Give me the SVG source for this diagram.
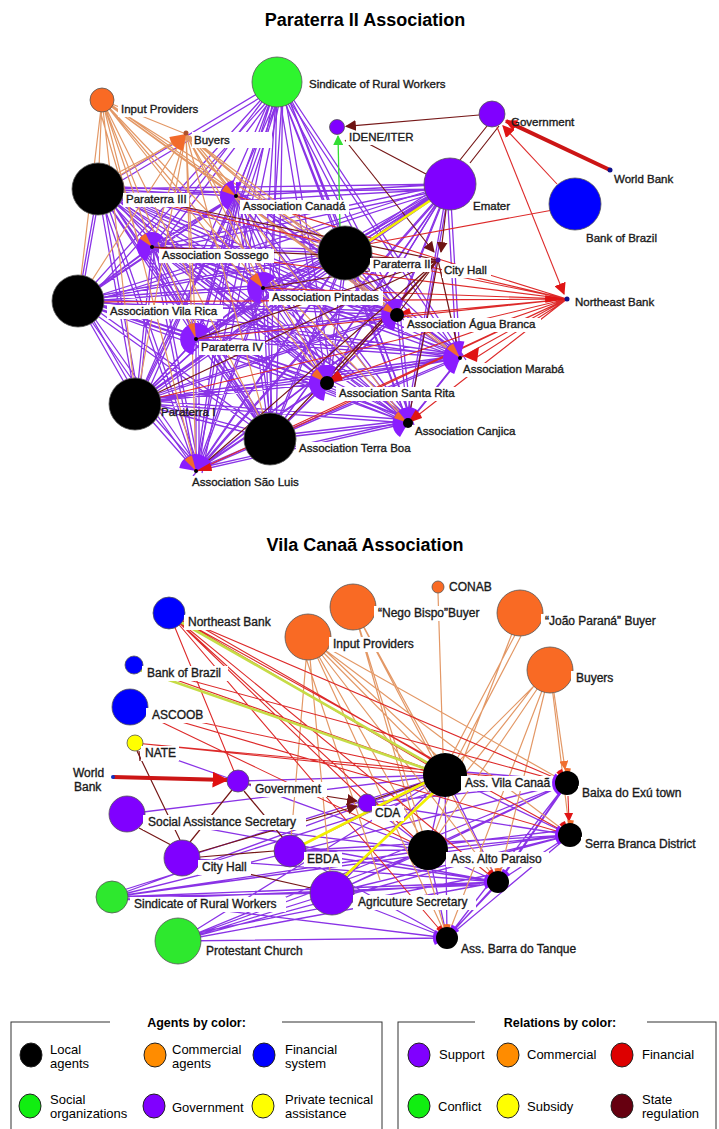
<svg xmlns="http://www.w3.org/2000/svg" xmlns:xlink="http://www.w3.org/1999/xlink" width="719" height="1129" viewBox="0 0 719 1129">
<style>
.pu{stroke:#8a33e6;stroke-width:1.3;fill:none}
.or{stroke:#e39866;stroke-width:1.2;fill:none}
.rd{stroke:#dd2a2a;stroke-width:1.1;fill:none}
.dr{stroke:#761818;stroke-width:1.2;fill:none}
.ye{stroke:#f2ef00;stroke-width:2.6;fill:none}
.yg{stroke:#c6dc46;stroke-width:2.6;fill:none}
.fp{fill:#8a1cff}
.fo{fill:#f26a2a}
.fr{fill:#e01414}
.nd{stroke:#555;stroke-width:.8}
.bg{fill:#fff}
.t{font-family:"Liberation Sans",Arial,sans-serif;font-size:11.5px;fill:#1a1a1a;stroke:#1a1a1a;stroke-width:.35}
.tb{font-family:"Liberation Sans",Arial,sans-serif;font-size:12px;fill:#1a1a1a;stroke:#1a1a1a;stroke-width:.35}
.h{font-family:"Liberation Sans",Arial,sans-serif;font-size:18px;font-weight:bold;fill:#000}
.lt{font-family:"Liberation Sans",Arial,sans-serif;font-size:12.5px;font-weight:bold;fill:#000}
.lg{font-family:"Liberation Sans",Arial,sans-serif;font-size:13px;fill:#000}
.le{stroke:#222;stroke-width:1}
</style>
<defs>
<marker id="aDR" viewBox="0 0 10 10" refX="9" refY="5" markerWidth="11" markerHeight="11" markerUnits="userSpaceOnUse" orient="auto"><path d="M0 0L10 5L0 10z" fill="#6e1414"/></marker>
<marker id="aRD" viewBox="0 0 10 10" refX="9" refY="5" markerWidth="12" markerHeight="12" markerUnits="userSpaceOnUse" orient="auto"><path d="M0 0L10 5L0 10z" fill="#e01414"/></marker>
<marker id="aBIG" viewBox="0 0 10 10" refX="9" refY="5" markerWidth="16" markerHeight="16" markerUnits="userSpaceOnUse" orient="auto"><path d="M0 0L10 5L0 10z" fill="#e01010"/></marker>
<marker id="aGR" viewBox="0 0 10 10" refX="9" refY="5" markerWidth="10" markerHeight="10" markerUnits="userSpaceOnUse" orient="auto"><path d="M0 0L10 5L0 10z" fill="#33dd33"/></marker>
<marker id="aOR" viewBox="0 0 10 10" refX="9" refY="5" markerWidth="9" markerHeight="9" markerUnits="userSpaceOnUse" orient="auto"><path d="M0 0L10 5L0 10z" fill="#f07030"/></marker>
<marker id="aRS" viewBox="0 0 10 10" refX="9" refY="5" markerWidth="9" markerHeight="9" markerUnits="userSpaceOnUse" orient="auto"><path d="M0 0L10 5L0 10z" fill="#e01414"/></marker>
</defs>
<rect width="719" height="1129" fill="#fff"/>

<text class="h" x="365" y="26" text-anchor="middle">Paraterra II Association</text>
<text class="h" x="365" y="551" text-anchor="middle">Vila Canaã Association</text>

<g id="connectors">
<!-- top network -->
<path id="mesh" class="pu" d="M98 189L236 196M98 189L152 247M98 189L345 253M98 189L78 302M98 189L263 288M98 189L397 315M98 189L196 339M98 189L460 358M98 189L327 383M98 189L136 403M98 189L270 439M98 189L408 423M98 189L196 471M236 196L152 247M236 196L345 253M236 196L78 302M236 196L263 288M236 196L397 315M236 196L196 339M236 196L460 358M236 196L327 383M236 196L136 403M236 196L270 439M236 196L408 423M236 196L196 471M152 247L345 253M152 247L78 302M152 247L263 288M152 247L397 315M152 247L196 339M152 247L460 358M152 247L327 383M152 247L136 403M152 247L270 439M152 247L408 423M152 247L196 471M345 253L78 302M345 253L263 288M345 253L397 315M345 253L196 339M345 253L460 358M345 253L327 383M345 253L136 403M345 253L270 439M345 253L408 423M345 253L196 471M78 302L263 288M78 302L397 315M78 302L196 339M78 302L460 358M78 302L327 383M78 302L136 403M78 302L270 439M78 302L408 423M78 302L196 471M263 288L397 315M263 288L196 339M263 288L460 358M263 288L327 383M263 288L136 403M263 288L270 439M263 288L408 423M263 288L196 471M397 315L196 339M397 315L460 358M397 315L327 383M397 315L136 403M397 315L270 439M397 315L408 423M397 315L196 471M196 339L460 358M196 339L327 383M196 339L136 403M196 339L270 439M196 339L408 423M196 339L196 471M460 358L327 383M460 358L136 403M460 358L270 439M460 358L408 423M460 358L196 471M327 383L136 403M327 383L270 439M327 383L408 423M327 383L196 471M136 403L270 439M136 403L408 423M136 403L196 471M270 439L408 423M270 439L196 471M408 423L196 471"/>
<use xlink:href="#mesh" href="#mesh" transform="translate(3,-3)"/>
<path id="sind" class="pu" d="M277 82L98 189M277 82L236 196M277 82L152 247M277 82L345 253M277 82L78 302M277 82L263 288M277 82L397 315M277 82L196 339M277 82L460 358M277 82L327 383M277 82L136 403M277 82L270 439M277 82L408 423M277 82L196 471"/>
<use xlink:href="#sind" href="#sind" transform="translate(6,2)"/>
<path id="emat" class="pu" d="M450 184L98 189M450 184L236 196M450 184L152 247M450 184L345 253M450 184L78 302M450 184L263 288M450 184L397 315M450 184L196 339M450 184L460 358M450 184L327 383M450 184L136 403M450 184L270 439M450 184L408 423M450 184L196 471"/>
<use xlink:href="#emat" href="#emat" transform="translate(-3,5)"/>
<path class="or" d="M102 100L98 189M102 100L236 196M102 100L152 247M102 100L345 253M102 100L78 302M102 100L263 288M102 100L397 315M102 100L196 339M102 100L460 358M102 100L327 383M102 100L136 403M102 100L270 439M102 100L408 423M102 100L196 471M102 100L186 134M106 101L240 196M98 104L140 247"/>
<path class="or" d="M186 134L98 189M186 134L236 196M186 134L152 247M186 134L345 253M186 134L78 302M186 134L263 288M186 134L397 315M186 134L196 339M186 134L460 358M186 134L327 383M186 134L136 403M186 134L270 439M186 134L408 423M186 134L196 471M190 136L240 196"/>
<path class="or" stroke-width="2.6" d="M112 176L176 142"/>
<path class="rd" d="M567 299L98 189M567 299L236 196M567 299L152 247M567 299L345 253M567 299L78 302M567 299L263 288M567 299L397 315M567 299L196 339M567 299L460 358M567 299L327 383M567 299L136 403M567 299L270 439M567 299L408 423M567 299L196 471M553 210L368 244M560 304L477 357"/>
<path class="dr" d="M438 260L98 189M438 260L152 247M438 260L263 288M438 260L397 315M438 260L196 339M438 260L327 383M438 260L136 403M438 260L270 439M438 260L408 423M438 260L196 471M438 260L460 358M487 126L460 160M499 126L470 163M350 134L426 174"/>
<path class="dr" marker-end="url(#aDR)" d="M479 115L346 126.3"/>
<path class="dr" marker-end="url(#aDR)" d="M345 140L434 252"/>
<path class="dr" marker-end="url(#aDR)" d="M446 210L441 252"/>
<path class="rd" marker-end="url(#aRD)" d="M497 127L564 294"/>
<path class="rd" marker-end="url(#aRD)" d="M557 184L503 126"/>
<path stroke="#cc1515" stroke-width="4" fill="none" marker-end="url(#aRD)" d="M610 170L506 121"/>
<path stroke="#33dd33" stroke-width="1.3" fill="none" marker-end="url(#aGR)" d="M340 228L338 136"/>
<path class="pu" stroke-width="2.5" d="M427 194L364 236"/>
<path class="ye" d="M431 200L369 241"/>

<!-- bottom network -->
<path class="pu" d="M112 897L445 775M112 897L428 850M112 897L567 783M112 897L570 835M112 897L498 882M112 897L447 938M112 897L332 893M114 893L440 790M114 900L480 885M178 941L445 775M178 941L428 850M178 941L570 835M178 941L498 882M178 941L447 938M178 941L332 893M178 941L567 783M180 936L490 875M182 858L445 775M182 858L498 882M127 814L445 775M127 814L428 850M127 814L498 882M238 781L445 775M238 781L428 850M290 851L445 775M290 851L428 850M290 851L570 835M290 851L498 882M290 851L447 938M332 893L445 775M332 893L428 850M332 893L567 783M332 893L570 835M332 893L498 882M332 893L447 938M367 803L445 775M367 803L428 850M367 803L567 783M367 803L570 835M445 775L567 783M445 775L570 835M445 775L428 850M445 775L498 882M445 775L447 938M428 850L567 783M428 850L570 835M428 850L498 882M428 850L447 938M498 882L567 783M498 882L570 835M498 882L447 938M447 938L570 835M447 938L567 783M449 780L563 788M430 846L566 830M440 770L562 780M502 878L563 790M450 934L494 888"/>
<path class="pu" d="M140 747L228 778"/>
<path class="or" d="M308 637L445 775M308 637L428 850M308 637L498 882M308 637L447 938M308 637L567 783M308 637L570 835M308 637L332 893M308 637L290 851M314 640L452 770M300 640L380 880M353 607L445 775M353 607L428 850M353 607L447 938M353 607L498 882M438 593L443 753M515 635L452 755M521 636L458 757M520 613L428 850M550 670L445 775M550 670L570 835M550 670L428 850M550 670L498 882M550 670L447 938M545 672L460 780"/>
<path class="or" stroke="#ef7a3a" stroke-width="1.6" marker-end="url(#aOR)" d="M554 693L565 769"/>
<path class="rd" d="M169 613L445 775M175 612L446 768M169 613L567 783M169 613L570 835M169 613L428 850M169 613L498 882M169 613L447 938M169 613L238 781M169 613L367 803M134 665L445 775M134 665L567 783M130 707L445 775M130 707L428 850M130 707L570 835M135 743L445 775M135 743L567 783"/>
<path class="rd" stroke-width="1.5" marker-end="url(#aRS)" d="M568 796L569 821"/>
<path class="yg" d="M172 617L440 770M137 669L438 773"/>
<path class="dr" d="M137 751L180 840M232 790L190 842M244 791L283 838M139 828L171 845M200 857L274 851M205 864L311 888"/>
<path class="dr" stroke-width="3" d="M139 751L140 761"/>
<path class="dr" marker-end="url(#aDR)" d="M249 784L357 801"/>
<path class="dr" stroke-width="3" marker-end="url(#aDR)" d="M199 852L357 806"/>
<path class="dr" stroke-width="2.5" d="M375 799L425 782"/>
<path class="ye" d="M304 844L428 781M345 876L436 790"/>
<path stroke="#cc1515" stroke-width="4" fill="none" marker-end="url(#aBIG)" d="M113 777L227 780"/>
</g>

<!-- top nodes -->
<g id="n-sindicate"><circle class="nd" cx="277" cy="82" r="25" fill="#2ef52e"/><rect class="bg" x="306" y="78" width="144" height="14"/><text class="t" x="309" y="88">Sindicate of Rural Workers</text></g>
<g id="n-input-providers"><circle class="nd" cx="102" cy="100" r="12" fill="#f96a24"/><rect class="bg" x="118" y="103" width="85" height="14"/><text class="t" x="121" y="113">Input Providers</text></g>
<g id="n-buyers"><path class="fo" d="M186 134L183 150.7A17 17 0 0 1 169.3 137Z"/><circle cx="186" cy="133" r="2.5" fill="#b0502a"/><rect class="bg" x="192" y="132" width="80" height="16"/><text class="t" x="194" y="144">Buyers</text></g>
<g id="n-idene"><circle class="nd" cx="337" cy="127" r="7.5" fill="#8000ff"/><rect class="bg" x="346" y="131" width="66" height="14"/><text class="t" x="349" y="141">IDENE/ITER</text></g>
<g id="n-government"><circle class="nd" cx="492" cy="114" r="13" fill="#8000ff"/><text class="t" x="511" y="126">Government</text></g>
<g id="n-world-bank"><circle cx="610" cy="170" r="2.5" fill="#10108a"/><text class="t" x="614" y="183">World Bank</text></g>
<g id="n-emater"><circle class="nd" cx="450" cy="184" r="26" fill="#8000ff"/><rect class="bg" x="470" y="200" width="43" height="14"/><text class="t" x="473" y="210">Emater</text></g>
<g id="n-bank-brazil"><circle class="nd" cx="575" cy="204" r="26" fill="#0000ff"/><rect class="bg" x="583" y="232" width="78" height="14"/><text class="t" x="586" y="242">Bank of Brazil</text></g>
<g id="n-paraterra3"><circle class="nd" cx="98" cy="189" r="26" fill="#000"/><rect class="bg" x="123" y="193" width="66" height="14"/><text class="t" x="126" y="203">Paraterra III</text></g>
<g id="n-canada"><path class="fp" d="M236 196L228 209.9A16 16 0 0 1 233.2 180.2Z"/><path class="fo" d="M236 196L221.9 190.9A15 15 0 0 1 226.4 184.5Z"/><path class="fp" d="M236 196L236 182A14 14 0 0 1 240.8 182.8Z"/><circle cx="236" cy="196" r="2" fill="#000"/><rect class="bg" x="240" y="200" width="109" height="14"/><text class="t" x="243" y="210">Association Canadá</text></g>
<g id="n-sossego"><path class="fp" d="M152 247L146.9 261.1A15 15 0 1 1 163.5 237.4Z"/><path class="fo" d="M152 247L139.7 238.4A15 15 0 0 1 145.7 233.4Z"/><circle cx="152" cy="247" r="2" fill="#000"/><rect class="bg" x="159" y="249" width="115" height="14"/><text class="t" x="162" y="259">Association Sossego</text></g>
<g id="n-paraterra2"><circle class="nd" cx="345" cy="253" r="27" fill="#000"/><rect class="bg" x="370" y="258" width="61" height="14"/><text class="t" x="373" y="268">Paraterra II</text></g>
<g id="n-city-hall"><circle cx="438" cy="260" r="2.5" fill="#5010a0"/><rect class="bg" x="442" y="264" width="49" height="14"/><text class="t" x="444" y="274">City Hall</text></g>
<g id="n-vila-rica"><circle class="nd" cx="78" cy="301" r="26" fill="#000"/><rect class="bg" x="107" y="305" width="116" height="14"/><text class="t" x="110" y="315">Association Vila Rica</text></g>
<g id="n-pintadas"><path class="fp" d="M263 288L260.2 303.8A16 16 0 1 1 275.3 277.7Z"/><path class="fo" d="M263 288L249.9 278.8A16 16 0 0 1 257.5 273Z"/><circle cx="263" cy="288" r="2" fill="#000"/><rect class="bg" x="269" y="291" width="114" height="14"/><text class="t" x="272" y="301">Association Pintadas</text></g>
<g id="n-northeast-bank"><path class="fr" d="M567 299L545.3 302.8A22 22 0 0 1 545.3 295.2Z"/><circle cx="567" cy="299" r="2.5" fill="#10108a"/><text class="t" x="575" y="306">Northeast Bank</text></g>
<g id="n-agua-branca"><path class="fp" d="M397 315L394.2 330.8A16 16 0 1 1 402.5 300Z"/><path class="fo" d="M397 315L382.9 309.9A15 15 0 0 1 387.4 303.5Z"/><path class="fr" d="M397 315L409.1 308A14 14 0 0 1 410.9 313.8Z"/><circle cx="397" cy="315" r="7" fill="#000"/><rect class="bg" x="404" y="318" width="137" height="14"/><text class="t" x="407" y="328">Association Água Branca</text></g>
<g id="n-paraterra4"><path class="fp" d="M196 339L193.2 354.8A16 16 0 1 1 209.9 331Z"/><path class="fo" d="M196 339L188 325.1A16 16 0 0 1 194.6 323.1Z"/><circle cx="196" cy="339" r="2" fill="#000"/><rect class="bg" x="199" y="341" width="66" height="14"/><text class="t" x="201" y="351">Paraterra IV</text></g>
<g id="n-maraba"><path class="fp" d="M460 358L454.2 374A17 17 0 0 1 464.4 341.6Z"/><path class="fo" d="M460 358L446.9 348.8A16 16 0 0 1 453.2 343.5Z"/><polygon class="fr" points="463,356 479,347 477,362"/><circle cx="460" cy="358" r="2" fill="#000"/><rect class="bg" x="460" y="363" width="108" height="14"/><text class="t" x="463" y="373">Association Marabá</text></g>
<g id="n-santa-rita"><path class="fp" d="M327 383L323.9 400.7A18 18 0 1 1 336 367.4Z"/><path class="fo" d="M327 383L311.6 375.8A17 17 0 0 1 317.2 369.1Z"/><path class="fr" d="M327 383L337.3 370.7A16 16 0 0 1 342.8 380.2Z"/><circle cx="327" cy="383" r="7" fill="#000"/><rect class="bg" x="336" y="387" width="123" height="14"/><text class="t" x="339" y="397">Association Santa Rita</text></g>
<g id="n-paraterra1"><circle class="nd" cx="135" cy="404" r="26" fill="#000"/><text class="t" x="161" y="416">Paraterra I</text></g>
<g id="n-terra-boa"><circle class="nd" cx="270" cy="439" r="26" fill="#000"/><rect class="bg" x="296" y="442" width="119" height="14"/><text class="t" x="299" y="452">Association Terra Boa</text></g>
<g id="n-canjica"><path class="fp" d="M408 423L400 436.9A16 16 0 1 1 418.3 410.7Z"/><path class="fo" d="M408 423L393.9 417.9A15 15 0 0 1 398.4 411.5Z"/><path class="fr" d="M408 423L415.5 410A15 15 0 0 1 422.1 417.9Z"/><circle cx="408" cy="423" r="5" fill="#000"/><rect class="bg" x="412" y="425" width="108" height="14"/><text class="t" x="415" y="435">Association Canjica</text></g>
<g id="n-sao-luis"><path class="fp" d="M196 471L179.3 468A17 17 0 0 1 212 465.2Z"/><path class="fo" d="M196 471L184.7 459.7A16 16 0 0 1 191.9 455.5Z"/><path class="fr" d="M196 471L209.9 463A16 16 0 0 1 212 471Z"/><circle cx="196" cy="471" r="2" fill="#000"/><rect class="bg" x="189" y="476" width="115" height="14"/><text class="t" x="192" y="486">Association São Luis</text></g>

<!-- bottom nodes -->
<g id="b-northeast-bank"><circle class="nd" cx="169" cy="613" r="16" fill="#0000ff"/><rect class="bg" x="184" y="615" width="93" height="15"/><text class="tb" x="188" y="626">Northeast Bank</text></g>
<g id="b-bank-brazil"><circle class="nd" cx="134" cy="665" r="9" fill="#0000ff"/><rect class="bg" x="142" y="666" width="86" height="15"/><text class="tb" x="147" y="677">Bank of Brazil</text></g>
<g id="b-ascoob"><circle class="nd" cx="130" cy="707" r="18" fill="#0000ff"/><rect class="bg" x="146" y="708" width="60" height="15"/><text class="tb" x="152" y="719">ASCOOB</text></g>
<g id="b-nate"><circle class="nd" cx="135" cy="743" r="8" fill="#ffff00"/><rect class="bg" x="141" y="746" width="38" height="15"/><text class="tb" x="145" y="757">NATE</text></g>
<g id="b-world-bank"><circle cx="113" cy="777" r="2" fill="#1030c0"/><text class="tb" x="73" y="777">World</text><text class="tb" x="74" y="791">Bank</text></g>
<g id="b-government"><circle class="nd" cx="238" cy="781" r="11" fill="#8000ff"/><rect class="bg" x="251" y="782" width="76" height="15"/><text class="tb" x="255" y="793">Government</text></g>
<g id="b-social-assistance"><circle class="nd" cx="127" cy="814" r="18" fill="#8000ff"/><rect class="bg" x="143" y="815" width="163" height="15"/><text class="tb" x="148" y="826">Social Assistance Secretary</text></g>
<g id="b-cda"><circle class="nd" cx="367" cy="803" r="9" fill="#8000ff"/><rect class="bg" x="372" y="806" width="32" height="15"/><text class="tb" x="375" y="817">CDA</text></g>
<g id="b-city-hall"><circle class="nd" cx="182" cy="858" r="18" fill="#8000ff"/><rect class="bg" x="198" y="860" width="53" height="15"/><text class="tb" x="202" y="871">City Hall</text></g>
<g id="b-ebda"><circle class="nd" cx="290" cy="851" r="16" fill="#8000ff"/><rect class="bg" x="304" y="852" width="38" height="15"/><text class="tb" x="307" y="863">EBDA</text></g>
<g id="b-sindicate"><circle class="nd" cx="112" cy="897" r="16" fill="#2ee82e"/><rect class="bg" x="130" y="897" width="156" height="15"/><text class="tb" x="134" y="908">Sindicate of Rural Workers</text></g>
<g id="b-agriculture"><circle class="nd" cx="332" cy="893" r="22" fill="#8000ff"/><rect class="bg" x="353" y="895" width="123" height="15"/><text class="tb" x="358" y="906">Agricuture Secretary</text></g>
<g id="b-protestant"><circle class="nd" cx="178" cy="941" r="23" fill="#2ee82e"/><rect class="bg" x="202" y="944" width="108" height="15"/><text class="tb" x="206" y="955">Protestant Church</text></g>
<g id="b-input-providers"><circle class="nd" cx="308" cy="637" r="23" fill="#f96a24"/><rect class="bg" x="329" y="637" width="92" height="15"/><text class="tb" x="333" y="648">Input Providers</text></g>
<g id="b-nego-bispo"><circle class="nd" cx="353" cy="607" r="23" fill="#f96a24"/><rect class="bg" x="374" y="606" width="117" height="15"/><text class="tb" x="378" y="617">“Nego Bispo”Buyer</text></g>
<g id="b-conab"><circle class="nd" cx="438" cy="587" r="6" fill="#f96a24"/><rect class="bg" x="445" y="580" width="51" height="15"/><text class="tb" x="449" y="591">CONAB</text></g>
<g id="b-joao-parana"><circle class="nd" cx="520" cy="613" r="23" fill="#f96a24"/><rect class="bg" x="541" y="614" width="125" height="15"/><text class="tb" x="545" y="625">“João Paraná” Buyer</text></g>
<g id="b-buyers"><circle class="nd" cx="550" cy="670" r="23" fill="#f96a24"/><rect class="bg" x="571" y="671" width="48" height="15"/><text class="tb" x="576" y="682">Buyers</text></g>
<g id="b-vila-canaa"><circle cx="445" cy="775" r="22" fill="#000"/><rect class="bg" x="461" y="776" width="95" height="15"/><text class="tb" x="465" y="787">Ass. Vila Canaã</text></g>
<g id="b-baixa-exu"><path class="fp" d="M567 783L559.5 796A15 15 0 0 1 555.5 773.4Z"/><path class="fr" d="M567 783L556.4 772.4A15 15 0 0 1 561.9 768.9Z"/><path class="fo" d="M567 783L564.4 768.2A15 15 0 0 1 570.9 768.5Z"/><circle cx="567" cy="783" r="12" fill="#000"/><rect class="bg" x="578" y="786" width="111" height="15"/><text class="tb" x="582" y="797">Baixa do Exú town</text></g>
<g id="b-serra-branca"><path class="fp" d="M570 835L558.5 844.6A15 15 0 0 1 558.5 825.4Z"/><path class="fr" d="M570 835L559.4 824.4A15 15 0 0 1 564.9 820.9Z"/><path class="fo" d="M570 835L567.4 820.2A15 15 0 0 1 573.9 820.5Z"/><circle cx="570" cy="835" r="12" fill="#000"/><rect class="bg" x="581" y="837" width="123" height="15"/><text class="tb" x="585" y="848">Serra Branca District</text></g>
<g id="b-alto-paraiso"><circle cx="428" cy="850" r="20" fill="#000"/><rect class="bg" x="446" y="852" width="103" height="15"/><text class="tb" x="451" y="863">Ass. Alto Paraiso</text></g>
<g id="b-unlabeled"><path class="fp" d="M498 882L485.9 889A14 14 0 0 1 486.5 874Z"/><path class="fr" d="M498 882L487.3 873A14 14 0 0 1 492.1 869.3Z"/><path class="fo" d="M498 882L494.4 868.5A14 14 0 0 1 501.6 868.5Z"/><path class="fp" d="M498 882L502.8 868.8A14 14 0 0 1 510.1 875Z"/><circle cx="498" cy="882" r="11" fill="#000"/></g>
<g id="b-barra-tanque"><path class="fp" d="M447 938L434.9 945A14 14 0 0 1 435.5 930Z"/><path class="fr" d="M447 938L436.3 929A14 14 0 0 1 441.1 925.3Z"/><path class="fo" d="M447 938L443.4 924.5A14 14 0 0 1 450.6 924.5Z"/><path class="fp" d="M447 938L451.8 924.8A14 14 0 0 1 459.1 931Z"/><circle cx="447" cy="938" r="11" fill="#000"/><rect class="bg" x="457" y="942" width="128" height="15"/><text class="tb" x="461" y="953">Ass. Barra do Tanque</text></g>

<!-- legend -->
<g id="legend-agents">
<rect x="11" y="1022" width="371" height="120" fill="none" stroke="#333" stroke-width="1"/>
<rect x="110" y="1014" width="172" height="16" fill="#fff"/>
<text class="lt" x="196.5" y="1027" text-anchor="middle">Agents by color:</text>
<ellipse class="le" cx="31" cy="1055" rx="11" ry="12" fill="#000"/>
<text class="lg" x="50" y="1054">Local</text><text class="lg" x="50" y="1068">agents</text>
<ellipse class="le" cx="155" cy="1055" rx="11" ry="12" fill="#ff8c00"/>
<text class="lg" x="172" y="1054">Commercial</text><text class="lg" x="172" y="1068">agents</text>
<ellipse class="le" cx="264" cy="1055" rx="11" ry="12" fill="#0000ff"/>
<text class="lg" x="285" y="1054">Financial</text><text class="lg" x="285" y="1068">system</text>
<ellipse class="le" cx="30" cy="1106" rx="11" ry="12" fill="#11ee11"/>
<text class="lg" x="50" y="1104">Social</text><text class="lg" x="50" y="1118">organizations</text>
<ellipse class="le" cx="154" cy="1106" rx="11" ry="12" fill="#8000ff"/>
<text class="lg" x="172" y="1112">Government</text>
<ellipse class="le" cx="263" cy="1106" rx="11" ry="12" fill="#ffff00"/>
<text class="lg" x="285" y="1104">Private tecnical</text><text class="lg" x="285" y="1118">assistance</text>
</g>
<g id="legend-relations">
<rect x="398" y="1022" width="318" height="120" fill="none" stroke="#333" stroke-width="1"/>
<rect x="475" y="1014" width="172" height="16" fill="#fff"/>
<text class="lt" x="560" y="1027" text-anchor="middle">Relations by color:</text>
<ellipse class="le" cx="419" cy="1055" rx="11" ry="12" fill="#8000ff"/>
<text class="lg" x="439" y="1059">Support</text>
<ellipse class="le" cx="508" cy="1055" rx="11" ry="12" fill="#ff8c00"/>
<text class="lg" x="527" y="1059">Commercial</text>
<ellipse class="le" cx="622" cy="1055" rx="11" ry="12" fill="#dd0000"/>
<text class="lg" x="642" y="1059">Financial</text>
<ellipse class="le" cx="419" cy="1106" rx="11" ry="12" fill="#11ee11"/>
<text class="lg" x="438" y="1111">Conflict</text>
<ellipse class="le" cx="508" cy="1106" rx="11" ry="12" fill="#ffff00"/>
<text class="lg" x="527" y="1111">Subsidy</text>
<ellipse class="le" cx="622" cy="1106" rx="11" ry="12" fill="#660010"/>
<text class="lg" x="642" y="1104">State</text><text class="lg" x="642" y="1118">regulation</text>
</g>
</svg>
